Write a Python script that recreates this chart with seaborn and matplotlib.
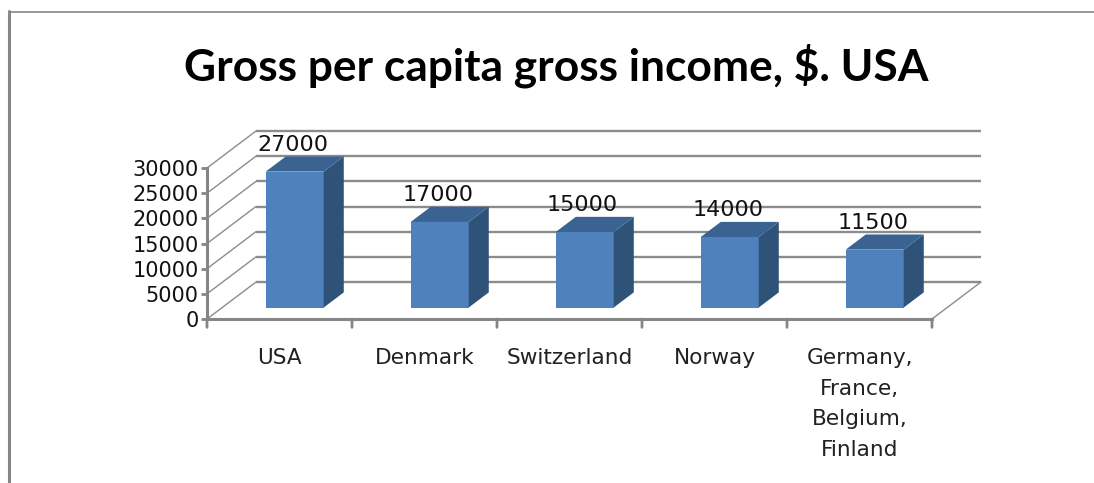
import numpy as np
import pandas as pd
import seaborn as sb
import matplotlib.pyplot as plt
from matplotlib.lines import Line2D
from matplotlib.patches import Polygon

# data
countries = ["USA", "Denmark", "Switzerland", "Norway", "Germany,\nFrance,\nBelgium,\nFinland"]
income = [27000, 17000, 15000, 14000, 11500]
y_ticks = [0, 5000, 10000, 15000, 20000, 25000, 30000]
title = "Gross per capita gross income, $. USA"

# colors
gridcolor = "#8C8C8C"
axiscolor = "#868686"
front = "#4F81BD"
side = "#2F5279"
top = "#3A6391"

# pixel layout of the fake 3d box
W, H = 1094, 483
ax_left, ax_bottom, ax_width, ax_height = 207, 319, 725, 151
depth_x = 49 / (ax_width / len(countries))
depth_y = 37 * max(y_ticks) / ax_height
bar_width = 0.4
bar_near = 0.31
bar_far = 0.72

def project(x, y, d):
    return x + d * depth_x, y + d * depth_y

df = pd.DataFrame({"country": countries, "income": income})

sb.set_theme(style="white", rc={"axes.facecolor": "none", "figure.facecolor": "white"})
plt.rcParams["font.family"] = ["DejaVu Sans"]
fig = plt.figure(figsize=(W / 100, H / 100), dpi=100)
ax = fig.add_axes([ax_left / W, (H - ax_bottom) / H, ax_width / W, ax_height / H])

sb.barplot(data=df, x="country", y="income", color=front, saturation=1, width=bar_width, ax=ax, zorder=5,
           edgecolor="none", linewidth=0)
ax.set_xlim(-0.5, len(countries) - 0.5)
ax.set_ylim(0, max(y_ticks))

# back wall, side wall and floor lines
xl, xr = ax.get_xlim()
for t in y_ticks:
    x0, y0 = project(xl, t, 1)
    x1, y1 = project(xr, t, 1)
    ax.plot([x0, x1], [y0, y1], color=gridcolor, lw=1.7, clip_on=False, zorder=1, solid_capstyle="butt")
    x2, y2 = project(xl, t, 0)
    ax.plot([x2, x0], [y2, y0], color=gridcolor, lw=1.0, clip_on=False, zorder=1)
x0, y0 = project(xr, 0, 1)
ax.plot([xr, x0], [0, y0], color=gridcolor, lw=1.0, clip_on=False, zorder=1)

# move the seaborn bars back and add their side and top faces
for p, v in zip(ax.patches, income):
    xa = p.get_x()
    xb = xa + p.get_width()
    nx, ny = project(xa, 0, bar_near)
    p.set_x(nx)
    p.set_y(ny)
    p.set_clip_on(False)
    a = project(xb, 0, bar_near)
    b = project(xb, 0, bar_far)
    c = project(xb, v, bar_far)
    d = project(xb, v, bar_near)
    e = project(xa, v, bar_far)
    f = project(xa, v, bar_near)
    ax.add_patch(Polygon([a, b, c, d], closed=True, fc=side, ec="none", clip_on=False, zorder=5))
    ax.add_patch(Polygon([f, d, c, e], closed=True, fc=top, ec="none", clip_on=False, zorder=5))
    lx, ly = project(xa + p.get_width() / 2, v, bar_near)
    ax.annotate(str(v), (lx, ly), xytext=(-1.5, 19.5), textcoords="offset points", ha="center", va="center",
                fontsize=16, color="#111111", zorder=6, annotation_clip=False)

# axis ticks and labels
for b in ["top", "right"]:
    ax.spines[b].set_visible(False)
for b in ["left", "bottom"]:
    ax.spines[b].set_color(axiscolor)
    ax.spines[b].set_linewidth(2.2)
    ax.spines[b].set_zorder(3)
ax.set_yticks(y_ticks)
ax.set_yticklabels([str(t) for t in y_ticks], fontsize=15, color="#111111")
ax.tick_params(axis="y", left=True, length=4, width=2, color=axiscolor, pad=2)
ax.set_xticks(np.arange(len(countries)))
ax.set_xticklabels(countries, fontsize=15.6, color="#222222", linespacing=1.66)
ax.tick_params(axis="x", bottom=False, pad=15)
ax.set_xlabel("")
ax.set_ylabel("")
for t in np.arange(len(countries) + 1) - 0.5:
    ax.annotate("", (t, 0), xytext=(0, -6), textcoords="offset points", annotation_clip=False,
                arrowprops=dict(arrowstyle="-", color=axiscolor, lw=2, shrinkA=0, shrinkB=0))

fig.text(556 / W, 1 - 66 / H, title, ha="center", va="center", fontsize=31.9, fontweight="bold",
         family="Lato", color="black")

# picture frame, top and left only
fig.add_artist(Line2D([8.5 / W, 1], [1 - 11.5 / H, 1 - 11.5 / H], color="#868686", lw=1.2))
fig.add_artist(Line2D([8.5 / W, 8.5 / W], [1 - 11 / H, 0], color="#868686", lw=2.2))

plt.savefig("out.png", dpi=100)
